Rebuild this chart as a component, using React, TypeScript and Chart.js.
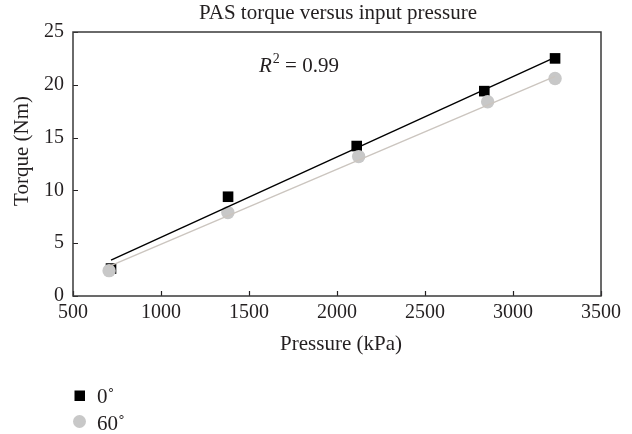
import React, { useEffect, useRef } from "react";
import { Chart, registerables } from "chart.js";

Chart.register(...registerables);

// ---- data ----
const pressure0 = [716, 1381, 2112, 2837, 3239];
const torque0 = [2.6, 9.4, 14.2, 19.4, 22.5];
const pressure60 = [705, 1380, 2123, 2856, 3239];
const torque60 = [2.4, 7.9, 13.2, 18.4, 20.6];
const trend0X = [716, 3239];
const trend0Y = [3.4, 22.6];
const trend60X = [705, 3239];
const trend60Y = [2.8, 20.8];
const seriesLabels = ["0\u02DA", "60\u02DA"];
const chartTitle = "PAS torque versus input pressure";
const xAxisTitle = "Pressure (kPa)";
const yAxisTitle = "Torque (Nm)";
const rSquaredValue = "0.99";
const xRange = [500, 3500];
const yRange = [0, 25];
const xStep = 500;
const yStep = 5;

const FONT = "'Liberation Serif', 'Times New Roman', serif";
const TEXT = "#231f20";

const toPoints = (xs: number[], ys: number[]) => xs.map((x, i) => ({ x, y: ys[i] }));

const decorPlugin = {
  id: "decor",
  afterDraw(chart: any) {
    const { ctx, chartArea, scales } = chart;
    const { left, right, top, bottom } = chartArea;
    ctx.save();
    // inner ticks
    ctx.strokeStyle = "#231f20";
    ctx.lineWidth = 1.2;
    ctx.beginPath();
    for (const t of scales.x.ticks) {
      const px = Math.round(scales.x.getPixelForValue(t.value)) + 0.5;
      ctx.moveTo(px, bottom);
      ctx.lineTo(px, bottom - 5);
    }
    for (const t of scales.y.ticks) {
      const py = Math.round(scales.y.getPixelForValue(t.value)) + 0.5;
      ctx.moveTo(left, py);
      ctx.lineTo(left + 5, py);
    }
    ctx.stroke();
    // frame
    ctx.strokeStyle = "#3a3a3a";
    ctx.lineWidth = 1.5;
    ctx.strokeRect(left, top, right - left, bottom - top);

    ctx.fillStyle = TEXT;
    // title
    ctx.font = `21px ${FONT}`;
    ctx.textAlign = "center";
    ctx.textBaseline = "alphabetic";
    ctx.fillText(chartTitle, 338, 19);
    // x axis title
    ctx.fillText(xAxisTitle, 341, 350);
    // y axis title
    ctx.save();
    ctx.translate(28, 151);
    ctx.rotate(-Math.PI / 2);
    ctx.fillText(yAxisTitle, 0, 0);
    ctx.restore();

    // R^2 label
    ctx.textAlign = "left";
    let x = 259;
    const base = 72;
    ctx.font = `italic 21px ${FONT}`;
    ctx.fillText("R", x, base);
    x += ctx.measureText("R").width + 1;
    ctx.font = `14px ${FONT}`;
    ctx.fillText("2", x, base - 9);
    x += ctx.measureText("2").width;
    ctx.font = `21px ${FONT}`;
    ctx.fillText(" = " + rSquaredValue, x, base);

    // legend
    ctx.fillStyle = "#000000";
    ctx.fillRect(74.5, 390.5, 10.5, 10.5);
    ctx.fillStyle = "#c8c8c8";
    ctx.beginPath();
    ctx.arc(79.5, 421.5, 6.5, 0, Math.PI * 2);
    ctx.fill();
    ctx.fillStyle = TEXT;
    ctx.font = `21px ${FONT}`;
    ctx.fillText(seriesLabels[0], 97, 403);
    ctx.fillText(seriesLabels[1], 97, 430);
    ctx.restore();
  },
};

export default function App() {
  const ref = useRef<HTMLCanvasElement | null>(null);
  useEffect(() => {
    document.body.style.margin = "0";
    const canvas = ref.current;
    if (!canvas) return;
    const chart = new Chart(canvas, {
      type: "scatter",
      data: {
        datasets: [
          {
            label: "trend 0",
            data: toPoints(trend0X, trend0Y),
            showLine: true,
            borderColor: "#000000",
            borderWidth: 1.4,
            pointRadius: 0,
            order: 1,
          },
          {
            label: "trend 60",
            data: toPoints(trend60X, trend60Y),
            showLine: true,
            borderColor: "#cbc5bf",
            borderWidth: 1.4,
            pointRadius: 0,
            order: 2,
          },
          {
            label: seriesLabels[1],
            data: toPoints(pressure60, torque60),
            pointStyle: "circle",
            pointRadius: 6.7,
            backgroundColor: "#c8c8c8",
            borderColor: "#c8c8c8",
            borderWidth: 0,
            order: 3,
          },
          {
            label: seriesLabels[0],
            data: toPoints(pressure0, torque0),
            pointStyle: "rect",
            pointRadius: 7.5,
            backgroundColor: "#000000",
            borderColor: "#000000",
            borderWidth: 0,
            order: 4,
          },
        ],
      },
      options: {
        responsive: true,
        maintainAspectRatio: false,
        animation: false,
        layout: { padding: { top: 32, right: 31, bottom: 0, left: 0 } },
        plugins: {
          legend: { display: false },
          title: { display: false },
          tooltip: { enabled: false },
        },
        scales: {
          x: {
            type: "linear",
            min: xRange[0],
            max: xRange[1],
            ticks: {
              stepSize: xStep,
              color: TEXT,
              font: { family: FONT, size: 20 },
              padding: 5,
              callback: (v: any) => String(v),
            },
            grid: { display: false, drawTicks: false },
            border: { display: false },
            afterFit: (s: any) => {
              s.height = 138;
            },
          },
          y: {
            type: "linear",
            min: yRange[0],
            max: yRange[1],
            ticks: {
              stepSize: yStep,
              color: TEXT,
              font: { family: FONT, size: 20 },
              padding: 9,
              callback: (v: any) => String(v),
            },
            grid: { display: false, drawTicks: false },
            border: { display: false },
            afterFit: (s: any) => {
              s.width = 73;
            },
          },
        },
      },
      plugins: [decorPlugin],
    });
    return () => chart.destroy();
  }, []);
  return (
    <div style={{ width: 632, height: 434, position: "relative" }}>
      <canvas ref={ref} />
    </div>
  );
}
